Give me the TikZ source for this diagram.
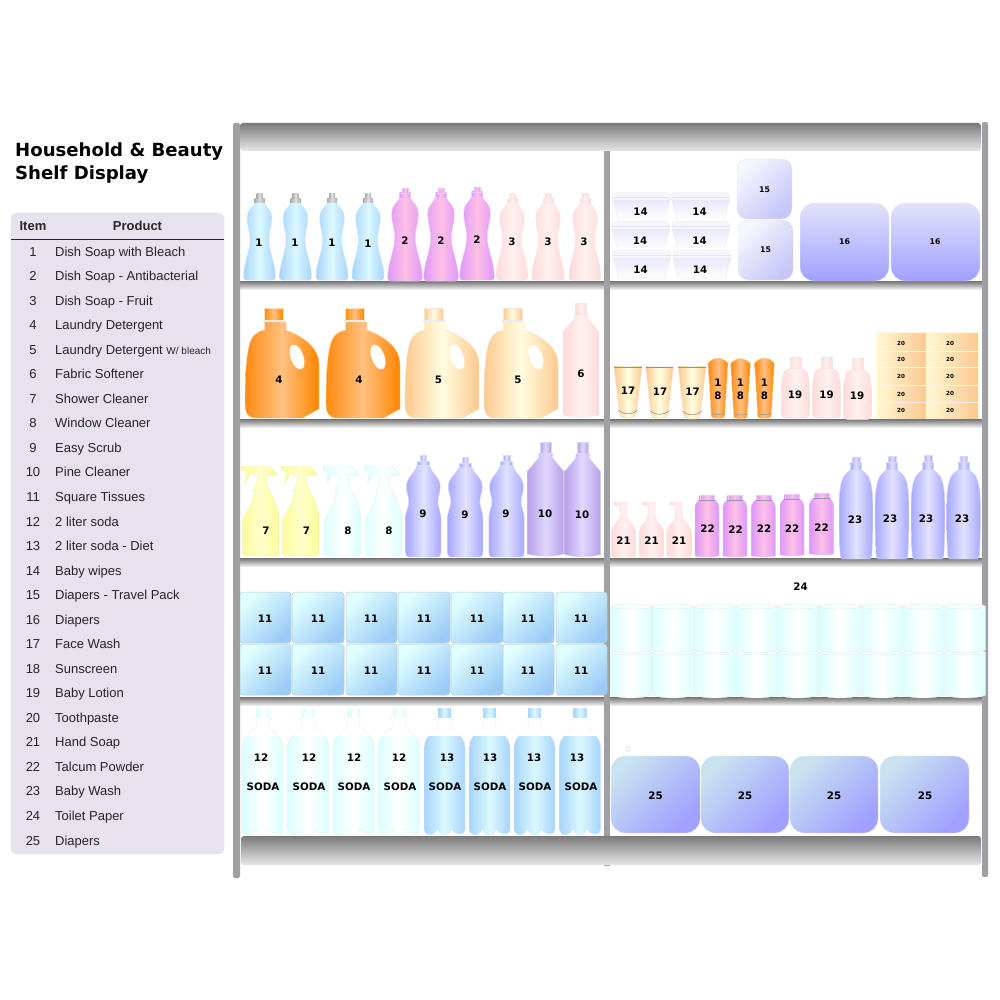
\documentclass[tikz,border=0pt]{standalone}
\usepackage{fontspec}
\setmainfont{Liberation Sans}
\newfontfamily\vfont{DejaVu Sans}
\definecolor{post}{HTML}{A09FA4}
\definecolor{tabfill}{HTML}{E6E2EE}
\definecolor{capgrey}{HTML}{ABABAB}
\newcounter{lb}
\tikzset{
  sblue/.style={left color=bl1,right color=bl1,middle color=bl2,draw=bl3,line width=.4pt},
  spurple/.style={left color=pu1,right color=pu1,middle color=pu2,draw=pu3,line width=.4pt},
  spink/.style={left color=pi1,right color=pi1,middle color=pi2,draw=pi3,line width=.4pt},
  sorange/.style={left color=or1,right color=or3,middle color=or2,draw=or4,line width=.4pt},
  scream/.style={left color=cr1,right color=cr1,middle color=cr2,draw=cr3,line width=.4pt},
  sviolet/.style={left color=vi1,right color=vi1,middle color=vi2,draw=vi3,line width=.4pt},
  slav/.style={left color=la1,right color=la1,middle color=la2,draw=la3,line width=.4pt},
  syellow/.style={left color=ye1,right color=ye1,middle color=ye2,draw=ye3,line width=.4pt},
  scyan/.style={left color=cy1,right color=cy1,middle color=white,draw=cy3,line width=.4pt},
  sgrey/.style={left color=capgrey,right color=capgrey,middle color=gray!25,draw=none},
  lbl/.style={inner sep=0pt,font=\vfont\bfseries\fontsize{10.3}{10.3}\selectfont,text=black},
  lbs/.style={inner sep=0pt,font=\vfont\bfseries\fontsize{7.8}{7.8}\selectfont,text=black},
  lbt/.style={inner sep=0pt,font=\vfont\bfseries\fontsize{5.6}{5.6}\selectfont,text=black},
  tabtext/.style={inner sep=0pt,font=\fontsize{13}{13}\selectfont,text=black!85},
  titletext/.style={inner sep=0pt,anchor=base west,font=\vfont\bfseries\fontsize{18.1}{18.1}\selectfont,text=black},
  shelfrail/.style={top color=black!55,bottom color=black!8,draw=none},
  bigrail/.style={top color=black!52,bottom color=black!9,draw=none,rounded corners=3pt},
  postbar/.style={fill=post,draw=none},
  markline/.style={draw=gray!85,line width=.6pt},
}
\definecolor{bl1}{HTML}{A8D4FA}\definecolor{bl2}{HTML}{DAF8FF}\definecolor{bl3}{HTML}{D4EAFA}
\definecolor{pu1}{HTML}{DC98FA}\definecolor{pu2}{HTML}{FFC0E6}\definecolor{pu3}{HTML}{EBC8F5}
\definecolor{pi1}{HTML}{FFDADA}\definecolor{pi2}{HTML}{FFF0F0}\definecolor{pi3}{HTML}{F5E6E6}
\definecolor{or1}{HTML}{FF8A10}\definecolor{or2}{HTML}{FFC080}\definecolor{or3}{HTML}{FF8500}\definecolor{or4}{HTML}{FFE0C0}
\definecolor{cr1}{HTML}{FDC98F}\definecolor{cr2}{HTML}{FFFDE0}\definecolor{cr3}{HTML}{F0E8E0}
\definecolor{vi1}{HTML}{A8A8FF}\definecolor{vi2}{HTML}{E2E2FF}\definecolor{vi3}{HTML}{D8D8F8}
\definecolor{la1}{HTML}{B8A0E8}\definecolor{la2}{HTML}{E0D8FF}\definecolor{la3}{HTML}{DDD4F0}
\definecolor{ye1}{HTML}{FBFC98}\definecolor{ye2}{HTML}{FFFFCC}\definecolor{ye3}{HTML}{F0F0C0}
\definecolor{cy1}{HTML}{DCFFFF}\definecolor{cy3}{HTML}{DDF0F0}
\definecolor{bx1}{HTML}{E2FFFF}\definecolor{bx2}{HTML}{9CCCF6}\definecolor{bx3}{HTML}{B8CCD8}
\definecolor{w1}{HTML}{F6F6FF}\definecolor{w2}{HTML}{C6C6F8}
\definecolor{d1}{HTML}{E2E2FC}\definecolor{d2}{HTML}{A0A0FF}
\definecolor{e1}{HTML}{C8E2F0}\definecolor{e2}{HTML}{A0A0FF}
\definecolor{tb1}{HTML}{FFF8D4}\definecolor{tb2}{HTML}{FDC98F}
% item shapes: (x,bottom) origin
\newcommand\lab[4]{\stepcounter{lb}\node[#1] (lb\arabic{lb}) at (#2,#3) {#4};}
\newcommand\itdish[5]{\begin{scope}[shift={(#1,#2)},scale=#3]
 \path[#5] (-5,-81.5) rectangle (5,-76.5);
 \path[#5] (-3,-86) rectangle (3,-81.5);
 \path[#4] (-13,0.2) .. controls (-15,0.2) and (-16,-1) .. (-16,-3)
  .. controls (-16,-17) and (-9.5,-28) .. (-9.5,-40)
  .. controls (-9.5,-48) and (-12.3,-54) .. (-12.3,-62)
  .. controls (-12.3,-71) and (-7,-72) .. (-5,-77) -- (5,-77)
  .. controls (7,-72) and (12.3,-71) .. (12.3,-62)
  .. controls (12.3,-54) and (9.5,-48) .. (9.5,-40)
  .. controls (9.5,-28) and (16,-17) .. (16,-3)
  .. controls (16,-1) and (15,0.2) .. (13,0.2) -- cycle;
 \end{scope}}
\newcommand\itjug[3]{\begin{scope}[shift={(#1,#2)}]
 \path[#3] (19,-110) rectangle (38,-98);
 \path[#3] (41,-96) -- (41,-88) .. controls (58,-82) and (74,-70) .. (74,-55) -- (74,-9) -- (58,0) -- (10,0)
   .. controls (3,0) and (0,-5) .. (0,-15) .. controls (0,-40) and (1,-60) .. (4,-72)
   .. controls (6,-82) and (12,-87) .. (19.5,-88) -- (19.5,-96) -- cycle;
 \path[fill=black!8,draw=none] (18,-98) rectangle (40,-96.5);
 \path[fill=white,rotate around={20:(52,-61)}] (52,-61) ellipse (6.5 and 13);
 \end{scope}}
\newcommand\itflask[3]{\begin{scope}[shift={(#1,#2)}]
 \path[#3] (-18,-3) -- (-18,-86) -- (-7,-99) -- (-7,-104) -- (7,-104) -- (7,-99) -- (18,-86) -- (18,-3)
  .. controls (9,0) and (-9,0) .. (-18,-3) -- cycle;
 \path[#3] (-5.5,-115) rectangle (5.5,-104);
 \end{scope}}
\newcommand\ittub[2]{\begin{scope}[shift={(#1,#2)}]
 \path[top color=d1!75,bottom color=white,draw=black!8,line width=.3pt] (-29,-21) -- (29,-21) -- (23,0) -- (-23,0) -- cycle;
 \path[fill=w1,draw=black!8,line width=.3pt] (-28,-28.3) -- (26,-28.3) -- (29,-25) -- (29,-21) -- (-29,-21) -- (-29,-25) -- cycle;
 \path[draw=d1,line width=.8pt] (-29,-23.5) -- (29,-23.5);
 \end{scope}}
\newcommand\itcup[3]{\begin{scope}[shift={(#1,#2)}]
 \path[scream] (-14,-#3) -- (14,-#3) -- (8.5,-4) .. controls (8,-1) and (6,0) .. (4,0) -- (-4,0) .. controls (-6,0) and (-8,-1) .. (-8.5,-4) -- cycle;
 \path[markline] (-13.8,-#3+1.2) -- (13.8,-#3+1.2);
 \path[markline] (-9.5,-8) .. controls (-5,-3) and (5,-3) .. (9.5,-8);
 \end{scope}}
\newcommand\itstube[2]{\begin{scope}[shift={(#1,#2)}]
 \path[sorange] (-10,-56) .. controls (-7,-59.5) and (-3,-61) .. (0,-61) .. controls (3,-61) and (7,-59.5) .. (10,-56)
   -- (6.7,-2) .. controls (5,0) and (-5,0) .. (-6.7,-2) -- cycle;
 \path[markline] (-6.5,-6) .. controls (-3,-4) and (3,-4) .. (6.5,-6);
 \end{scope}}
\newcommand\itlotion[2]{\begin{scope}[shift={(#1,#2)}]
 \path[spink] (-5.5,-61) rectangle (5.5,-49);
 \path[spink] (-10,0) .. controls (-13,0) and (-14,-2) .. (-14,-6) .. controls (-14.5,-20) and (-14.5,-30) .. (-13,-40)
  .. controls (-12.5,-46) and (-10,-49.5) .. (-5.5,-49.5) -- (5.5,-49.5) .. controls (10,-49.5) and (12.5,-46) .. (13,-40)
  .. controls (14.5,-30) and (14.5,-20) .. (14,-6) .. controls (14,-2) and (13,0) .. (10,0) -- cycle;
 \end{scope}}
\newcommand\itspray[3]{\begin{scope}[shift={(#1,#2)}]
 \path[#3] (3.7,0) -- (1.3,-3) -- (1.3,-36) -- (12,-56) -- (10.7,-57.7) -- (13.7,-62.7) -- (12,-66) -- (15.3,-72.7) -- (17,-81)
  -- (8.7,-81) -- (3.3,-72) -- (5.3,-84.3) -- (0,-86) -- (0,-90) -- (28,-90) -- (35.3,-82.7) -- (35.3,-80.7) -- (25.3,-80.7) -- (25.3,-71)
  .. controls (30,-62) and (37.7,-50) .. (37.7,-37.7) -- (37.7,-3) -- (35.3,0) -- cycle;
 \end{scope}}
\newcommand\itwaist[3]{\begin{scope}[shift={(#1,#2)}]
 \path[sviolet] (-3.3,-#3) rectangle (3.3,-#3+6);
 \path[sviolet] (-6,-#3+6) rectangle (6,-#3+10.5);
 \path[sviolet] (-15,0) .. controls (-17,-0.3) and (-17.7,-2) .. (-17.7,-5) -- (-17.7,-38)
  .. controls (-17.7,-46) and (-14.5,-50) .. (-14.5,-55) .. controls (-14.5,-60) and (-17,-65) .. (-17,-70)
  .. controls (-17,-80) and (-8,-84) .. (-6.5,-#3+10.5) -- (6.5,-#3+10.5)
  .. controls (8,-84) and (17,-80) .. (17,-70) .. controls (17,-65) and (14.5,-60) .. (14.5,-55)
  .. controls (14.5,-50) and (17.7,-46) .. (17.7,-38) -- (17.7,-5) .. controls (17.7,-2) and (17,-0.3) .. (15,0) -- cycle;
 \end{scope}}
\newcommand\itpump[2]{\begin{scope}[shift={(#1,#2)}]
 \path[spink] (-10,0) .. controls (-12,0) and (-12.3,-1) .. (-12.3,-3) -- (-12.3,-25) .. controls (-12.3,-32) and (-4.5,-35) .. (-3.7,-40)
  -- (-3.7,-51) -- (-9.7,-52.3) -- (-9.7,-55) -- (3.7,-55) -- (3.7,-40) .. controls (4.5,-35) and (12.3,-32) .. (12.3,-25)
  -- (12.3,-3) .. controls (12.3,-1) and (12,0) .. (10,0) -- cycle;
 \end{scope}}
\newcommand\ittalc[2]{\begin{scope}[shift={(#1,#2)}]
 \path[spurple] (-7.3,-62) rectangle (7.3,-56.5);
 \path[spurple] (-12,-1) -- (-12,-49) .. controls (-12,-53) and (-10,-56) .. (-8,-57) -- (8,-57) .. controls (10,-56) and (12,-53) .. (12,-49)
   -- (12,-1) .. controls (6,0.3) and (-6,0.3) .. (-12,-1) -- cycle;
 \path[draw=gray!80,line width=.7pt] (-8,-57) -- (8,-57);
 \end{scope}}
\newcommand\ittall[3]{\begin{scope}[shift={(#1,#2)}]
 \path[sviolet] (-3.7,-#3) rectangle (3.7,-97);
 \path[sviolet] (-5.5,-97) rectangle (5.5,-88.5);
 \path[sviolet] (-14,0) .. controls (-15.5,-1) and (-16,-3) .. (-16,-7) .. controls (-17,-25) and (-17,-45) .. (-16.7,-59)
  .. controls (-16.5,-72) and (-14,-80) .. (-12,-83) .. controls (-9,-87) and (-7,-88) .. (-6,-89) -- (6,-89)
  .. controls (7,-88) and (9,-87) .. (12,-83) .. controls (14,-80) and (16.5,-72) .. (16.7,-59)
  .. controls (17,-45) and (17,-25) .. (16,-7) .. controls (16,-3) and (15.5,-1) .. (14,0) -- cycle;
 \end{scope}}
\newcommand\ittissue[4]{\path[top color=bx1,bottom color=bx2,shading angle=45,draw=bx3,line width=.5pt,rounded corners=3pt] (#1,#3) rectangle (#2,#4);}
\newcommand\itroll[3]{\begin{scope}[shift={(#1,#2)}]
 \path[left color=cy1,right color=cy1,middle color=white,draw=black!9,line width=.4pt] (0,2.5) -- (0,#3-3) .. controls (10,#3+1) and (31,#3+1) .. (41,#3-3) -- (41,2.5) .. controls (31,-1) and (10,-1) .. (0,2.5) -- cycle;
 \path[fill=white!70!cy1,draw=black!9,line width=.4pt] (20.5,2.5) ellipse (20.5 and 2.5);
 \end{scope}}
\newcommand\itsoda[3]{\begin{scope}[shift={(#1,#2)}]
 \begin{scope}
 \clip (-22,-99) rectangle (22,1);
 \path[#3] (-20.5,-6) -- (-20.5,-88) .. controls (-20.5,-98) and (-10,-104) .. (-6,-109) -- (6,-109) .. controls (10,-104) and (20.5,-98) .. (20.5,-88)
  -- (20.5,-5) .. controls (20.5,-2) and (18,-1) .. (14,-1) .. controls (11,-1) and (9,-3) .. (7,-6)
  .. controls (5,-2) and (3,0) .. (0,0) .. controls (-3,0) and (-5,-2) .. (-7,-6)
  .. controls (-9,-2) and (-12,0) .. (-14,0) .. controls (-18,0) and (-20.5,-3) .. (-20.5,-6) -- cycle;
 \end{scope}
 \path[draw=black!7,line width=.4pt] (-20.5,-88) .. controls (-20.5,-98) and (-10,-104) .. (-6,-109) -- (-6,-115) -- (-9,-115.5) -- (-9,-118) -- (9,-118) -- (9,-115.5) -- (6,-115) -- (6,-109) .. controls (10,-104) and (20.5,-98) .. (20.5,-88);
 \path[#3,draw=none] (-6.3,-127) rectangle (6.3,-118);
 \end{scope}}
\begin{document}
\begin{tikzpicture}[x=1pt,y=-1pt]
\useasboundingbox (0,0) rectangle (1000,1000);
\path[fill=white] (0,0) rectangle (1000,1000);
% title
\node[titletext] (t1) at (15,157) {Household \& Beauty};
\node[titletext] (t2) at (15,180) {Shelf Display};
% table
\path[fill=tabfill,draw=black!8,line width=.4pt,rounded corners=5pt] (11,213) rectangle (224,854);
\coordinate (hl) at (11,239); \coordinate (hr) at (224,239);
\draw[black!85,line width=.8pt] (hl) -- (hr);
\node[tabtext,anchor=base,font=\bfseries\fontsize{13}{13}\selectfont] (hitem) at (33,230.5) {Item};
\node[tabtext,anchor=base,font=\bfseries\fontsize{13}{13}\selectfont] (hprod) at (137.5,230.5) {Product};
\foreach \t [count=\i] in {Dish Soap with Bleach,Dish Soap - Antibacterial,Dish Soap - Fruit,Laundry Detergent,
 Laundry Detergent {\fontsize{10}{10}\selectfont W/ bleach},Fabric Softener,Shower Cleaner,Window Cleaner,Easy Scrub,Pine Cleaner,
 Square Tissues,2 liter soda,2 liter soda - Diet,Baby wipes,Diapers - Travel Pack,Diapers,Face Wash,Sunscreen,Baby Lotion,
 Toothpaste,Hand Soap,Talcum Powder,Baby Wash,Toilet Paper,Diapers}{
  \pgfmathsetmacro\yy{251.5+(\i-1)*24.54+4.6}
  \node[tabtext,anchor=base] (num\i) at (33,\yy) {\i};
  \node[tabtext,anchor=base west] (prod\i) at (55,\yy) {\t};
}
% shelves
\foreach \y in {281,419,558,697}{
  \path[shelfrail] (240,\y) rectangle (604,\y+8);
  \path[shelfrail] (610,\y) rectangle (982,\y+8);
}
% posts
\path[postbar] (604,151) rectangle (610,865.6);
\path[postbar,rounded corners=2pt] (233,123) rectangle (240,878);
\path[postbar,rounded corners=2pt] (982,122) rectangle (988,877);
% rails
\path[bigrail] (240,123) rectangle (981,151);
\path[bigrail] (241,836) rectangle (981,865);
% row 1 left
\foreach \x in {259.5,295.5,332,368}{\itdish{\x}{280}{1}{sblue}{sgrey}}
\itdish{405}{281}{1.08}{spurple}{spurple}
\itdish{441}{281}{1.08}{spurple}{spurple}
\itdish{477}{280}{1.08}{spurple}{spurple}
\foreach \x in {512,548,585}{\itdish{\x}{280}{1}{spink}{spink}}
% row 1 right
\ittub{641.3}{221}\ittub{700.7}{221}\ittub{640.7}{250}\ittub{701}{250}\ittub{641.8}{279}\ittub{702}{279}
\path[top color=w1,bottom color=w2,shading angle=45,draw=black!8,line width=.4pt,rounded corners=10pt] (737,159) rectangle (792,219);
\path[top color=w1,bottom color=w2,shading angle=45,draw=black!8,line width=.4pt,rounded corners=10pt] (738,220) rectangle (793,280);
\path[top color=d1,bottom color=d2,draw=black!6,line width=.4pt,rounded corners=14pt] (800,203) rectangle (889,281);
\path[top color=d1,bottom color=d2,draw=black!6,line width=.4pt,rounded corners=14pt] (891,203) rectangle (980,281);
% row 2 left
\itjug{245}{418}{sorange}\itjug{326}{418}{sorange}\itjug{405}{418}{scream}\itjug{484}{418}{scream}
\itflask{581}{418}{spink}
% row 2 right
\itcup{628}{418}{52}\itcup{659.5}{418.5}{52}\itcup{692}{419}{53}
\itstube{718}{419}\itstube{740.5}{419.5}\itstube{764.5}{419}
\itlotion{795.5}{418}\itlotion{826.5}{418}\itlotion{857.5}{419.5}
\foreach \xa/\xb in {876/926,926/978}{
 \foreach \ya/\yb in {332/351,351/367,367/385,385/402,402/418}{
  \path[left color=tb1,right color=tb2,draw=none] (\xa,\ya) rectangle (\xb,\yb);
  \path[draw=white!80!tb2,line width=.3pt] (\xa,\ya) -- (\xb,\ya);
 }}
% row 3 left
\itspray{241.3}{556}{syellow}\itspray{281.3}{556}{syellow}\itspray{323.3}{556}{scyan}\itspray{364}{556}{scyan}
\itwaist{423.3}{557}{102}\itwaist{465.3}{557}{100}\itwaist{506.5}{557}{102}
\itflask{545.5}{557}{slav}\itflask{582.5}{557.5}{slav}
% row 3 right
\itpump{623.5}{557}\itpump{651.5}{557}\itpump{679}{557}
\ittalc{707}{557}\ittalc{735}{557}\ittalc{763.5}{557}\ittalc{792}{556}\ittalc{821.5}{555}
\ittall{856}{559}{102}\ittall{892}{559}{103}\ittall{928}{559}{104}\ittall{963.5}{559}{103}
% row 4 left
\foreach \a/\b in {240/291,292/344,346/397,398/450,451/503,503/554,556/607}{
  \ittissue{\a}{\b}{592}{643}\ittissue{\a}{\b}{644}{695}
}
% row 4 right
\foreach \k in {0,...,8}{\pgfmathsetmacro\rx{610.7+\k*41.75}\itroll{\rx}{650}{48}}
\foreach \k in {0,...,8}{\pgfmathsetmacro\rx{610.7+\k*41.75}\itroll{\rx}{604}{49}}
% row 5 left
\foreach \x in {262.7,308.2,353.7,399.2}{\itsoda{\x}{835}{scyan}}
\foreach \x in {444.5,489.5,534.5,580}{\itsoda{\x}{835}{sblue}}
% row 5 right
\foreach \a/\b in {611/700,701/789,790/878,880/969}{
 \path[top color=e1,bottom color=e2,shading angle=45,draw=black!5,line width=.4pt,rounded corners=14pt] (\a,756) rectangle (\b,833);
}
\node[draw=black!15,line width=.5pt,circle,inner sep=0pt,minimum size=4.5pt] (dot) at (628,749) {};
% labels
\foreach \x/\y/\t in {259/243/1,295/243/1,332/243/1,368/244/1,405/241/2,441/241/2,477/240/2,512/242/3,548/242/3,584/242/3,
 279/380/4,359/380/4,438.5/380/5,518/380/5,581/374/6,266/531/7,306.5/531/7,348/531/8,389/531/8,
 423/513.5/9,465/514.5/9,506/513.5/9,545/513.5/10,582/514.5/10,
 640.5/211.5/14,699.5/211.5/14,640/240.5/14,699.5/240.5/14,640.5/269.5/14,700/269.5/14,
 628/391/17,660/392/17,692.5/391.5/17,718/383/1,718/396/8,740.5/383/1,740.5/396/8,764.5/383/1,764.5/396/8,
 795/394.5/19,826.5/394.5/19,857/395.5/19,
 623.5/540.5/21,651.5/540.5/21,679/540.5/21,707.5/528.5/22,735.5/529.5/22,764/528.5/22,792/528.5/22,821.5/527.5/22,
 855/519.5/23,890/518.5/23,926/518.5/23,962/518.5/23,800.5/586.5/24,
 261/757.5/12,309/757.5/12,354/757.5/12,399/757.5/12,447/757.5/13,490/757.5/13,534/757.5/13,577/757.5/13,
 263/786.5/SODA,309/786.5/SODA,354/786.5/SODA,400/786.5/SODA,445/786.5/SODA,490/786.5/SODA,535/786.5/SODA,581/786.5/SODA,
 655.5/795.5/25,745/795.5/25,834/795.5/25,925/795.5/25}{\lab{lbl}{\x}{\y}{\t}}
\foreach \x/\y/\t in {764.5/190/15,765.5/250/15,844.5/242/16,935/242/16}{\lab{lbs}{\x}{\y}{\t}}
\foreach \x in {265,318,371,424,477,528,581}{\lab{lbl}{\x}{618.5}{11}\lab{lbl}{\x}{670.5}{11}}
\foreach \y in {343,359,376,394,410}{\lab{lbt}{901}{\y}{20}}
\foreach \y in {343,359,376,393,410}{\lab{lbt}{950}{\y}{20}}
\end{tikzpicture}
\end{document}
